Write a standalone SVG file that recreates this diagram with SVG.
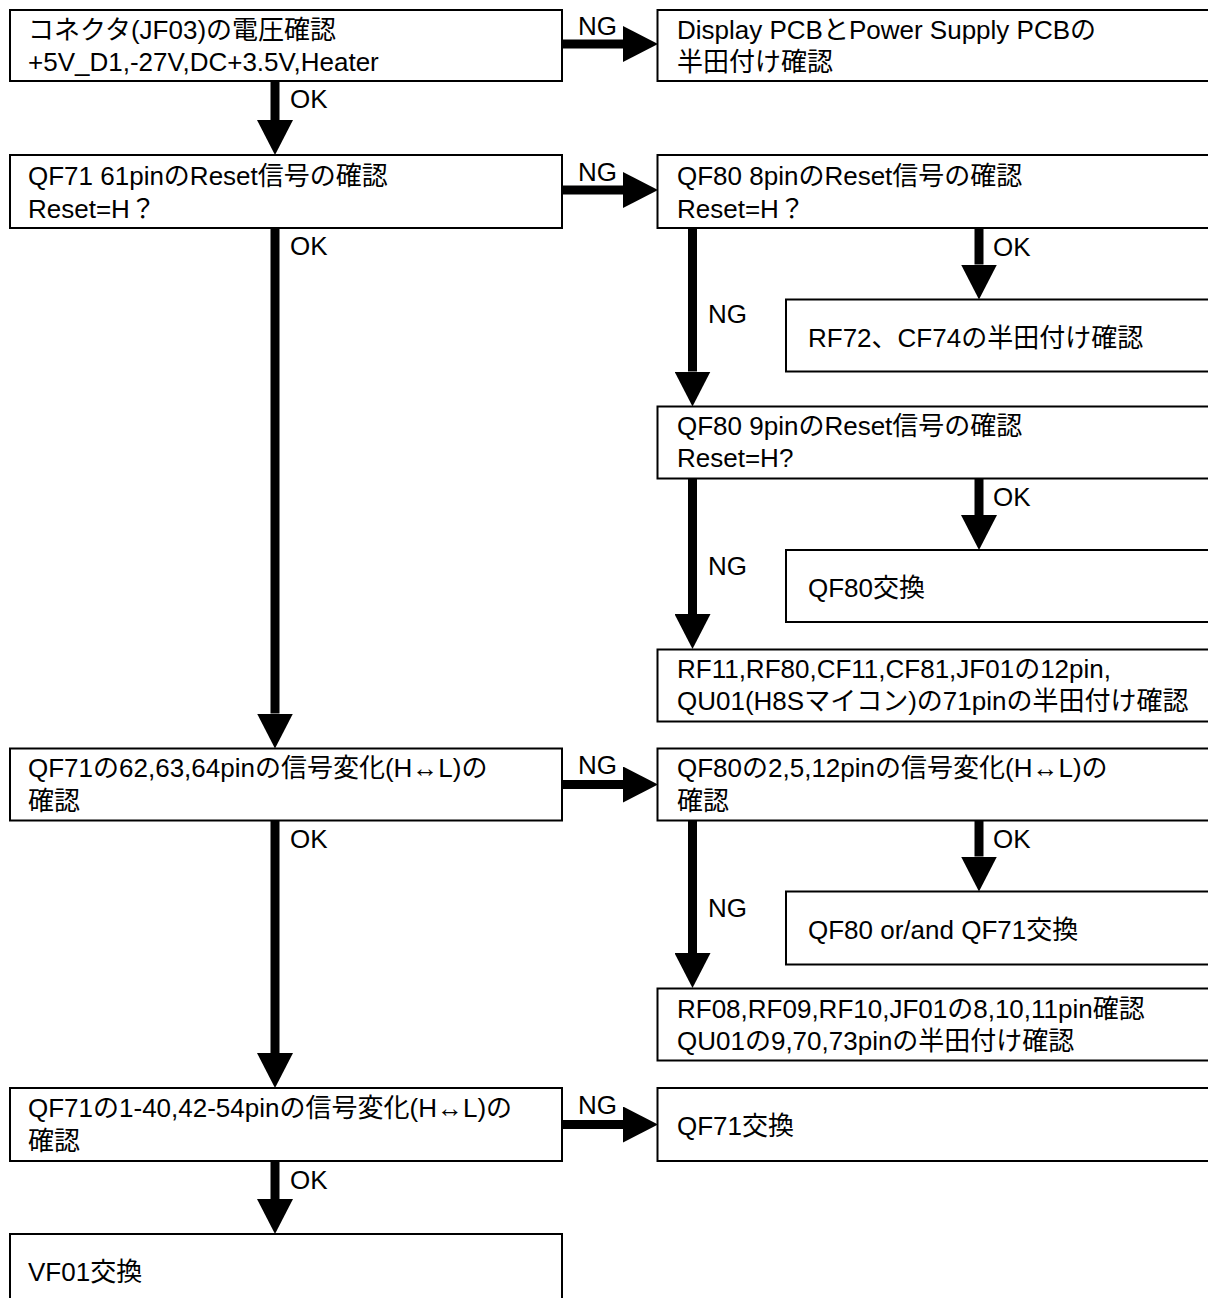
<svg xmlns="http://www.w3.org/2000/svg" width="1208" height="1298" viewBox="0 0 1208 1298">
<defs>
<style>
.box{fill:#fff;stroke:#000;stroke-width:2}
.t{font-family:"Liberation Sans","Noto Sans CJK JP",sans-serif;font-size:26px;fill:#000}
.c{stroke:#000;stroke-width:9;fill:none;marker-end:url(#ah)}
</style>
<marker id="ah" viewBox="0 0 35 36" markerWidth="35" markerHeight="36" markerUnits="userSpaceOnUse" refX="0" refY="18" orient="auto">
<path d="M0,0 L35,18 L0,36 Z" fill="#000"/>
</marker>
</defs>
<rect width="1208" height="1298" fill="#fff"/>

<g id="connectors">
<line class="c" x1="562" y1="44" x2="623" y2="44"/>
<line class="c" x1="562" y1="190" x2="623" y2="190"/>
<line class="c" x1="562" y1="784.5" x2="623" y2="784.5"/>
<line class="c" x1="562" y1="1124.5" x2="623" y2="1124.5"/>
<line class="c" x1="275" y1="81" x2="275" y2="120"/>
<line class="c" x1="275" y1="228" x2="275" y2="713.5"/>
<line class="c" x1="275" y1="820.5" x2="275" y2="1053"/>
<line class="c" x1="275" y1="1161" x2="275" y2="1199"/>
<line class="c" x1="692.5" y1="228" x2="692.5" y2="371.5"/>
<line class="c" x1="692.5" y1="478.5" x2="692.5" y2="614"/>
<line class="c" x1="692.5" y1="820.5" x2="692.5" y2="953"/>
<line class="c" x1="979" y1="228" x2="979" y2="264.5"/>
<line class="c" x1="979" y1="478.5" x2="979" y2="515"/>
<line class="c" x1="979" y1="820.5" x2="979" y2="856.5"/>
<text class="t" x="578" y="35">NG</text>
<text class="t" x="578" y="181">NG</text>
<text class="t" x="578" y="774">NG</text>
<text class="t" x="578" y="1114">NG</text>
<text class="t" x="290" y="108">OK</text>
<text class="t" x="290" y="255">OK</text>
<text class="t" x="290" y="848">OK</text>
<text class="t" x="290" y="1189">OK</text>
<text class="t" x="708" y="323">NG</text>
<text class="t" x="708" y="575">NG</text>
<text class="t" x="708" y="917">NG</text>
<text class="t" x="993" y="256">OK</text>
<text class="t" x="993" y="506">OK</text>
<text class="t" x="993" y="848">OK</text>
</g>

<g id="nodeA">
<rect class="box" x="10" y="10" width="552" height="71"/>
<text class="t" x="28" y="39">コネクタ(JF03)の電圧確認</text>
<text class="t" x="28" y="71">+5V_D1,-27V,DC+3.5V,Heater</text>
</g>
<g id="nodeB">
<rect class="box" x="10" y="155" width="552" height="73"/>
<text class="t" x="28" y="185">QF71 61pinのReset信号の確認</text>
<text class="t" x="28" y="218">Reset=H？</text>
</g>
<g id="nodeC">
<rect class="box" x="10" y="748.5" width="552" height="72"/>
<text class="t" x="28" y="777">QF71の62,63,64pinの信号変化(H↔L)の</text>
<text class="t" x="28" y="810">確認</text>
</g>
<g id="nodeD">
<rect class="box" x="10" y="1088" width="552" height="73"/>
<text class="t" x="28" y="1117">QF71の1-40,42-54pinの信号変化(H↔L)の</text>
<text class="t" x="28" y="1150">確認</text>
</g>
<g id="nodeE">
<rect class="box" x="10" y="1234" width="552" height="80"/>
<text class="t" x="28" y="1281">VF01交換</text>
</g>

<g id="nodeR1">
<rect class="box" x="657.5" y="10" width="570" height="71"/>
<text class="t" x="677" y="39">Display PCBとPower Supply PCBの</text>
<text class="t" x="677" y="71">半田付け確認</text>
</g>
<g id="nodeR2">
<rect class="box" x="657.5" y="155" width="570" height="73"/>
<text class="t" x="677" y="185">QF80 8pinのReset信号の確認</text>
<text class="t" x="677" y="218">Reset=H？</text>
</g>
<g id="nodeR3">
<rect class="box" x="786" y="299.5" width="440" height="72"/>
<text class="t" x="808" y="346.5">RF72、CF74の半田付け確認</text>
</g>
<g id="nodeR4">
<rect class="box" x="657.5" y="406.5" width="570" height="72"/>
<text class="t" x="677" y="435">QF80 9pinのReset信号の確認</text>
<text class="t" x="677" y="467">Reset=H?</text>
</g>
<g id="nodeR5">
<rect class="box" x="786" y="550" width="440" height="72"/>
<text class="t" x="808" y="597">QF80交換</text>
</g>
<g id="nodeR6">
<rect class="box" x="657.5" y="649.5" width="570" height="72"/>
<text class="t" x="677" y="678">RF11,RF80,CF11,CF81,JF01の12pin,</text>
<text class="t" x="677" y="710">QU01(H8Sマイコン)の71pinの半田付け確認</text>
</g>
<g id="nodeR7">
<rect class="box" x="657.5" y="748.5" width="570" height="72"/>
<text class="t" x="677" y="777">QF80の2,5,12pinの信号変化(H↔L)の</text>
<text class="t" x="677" y="810">確認</text>
</g>
<g id="nodeR8">
<rect class="box" x="786" y="891.5" width="440" height="73"/>
<text class="t" x="808" y="939">QF80 or/and QF71交換</text>
</g>
<g id="nodeR9">
<rect class="box" x="657.5" y="988.5" width="570" height="72"/>
<text class="t" x="677" y="1018">RF08,RF09,RF10,JF01の8,10,11pin確認</text>
<text class="t" x="677" y="1050">QU01の9,70,73pinの半田付け確認</text>
</g>
<g id="nodeR10">
<rect class="box" x="657.5" y="1088" width="570" height="73"/>
<text class="t" x="677" y="1135">QF71交換</text>
</g>
</svg>
